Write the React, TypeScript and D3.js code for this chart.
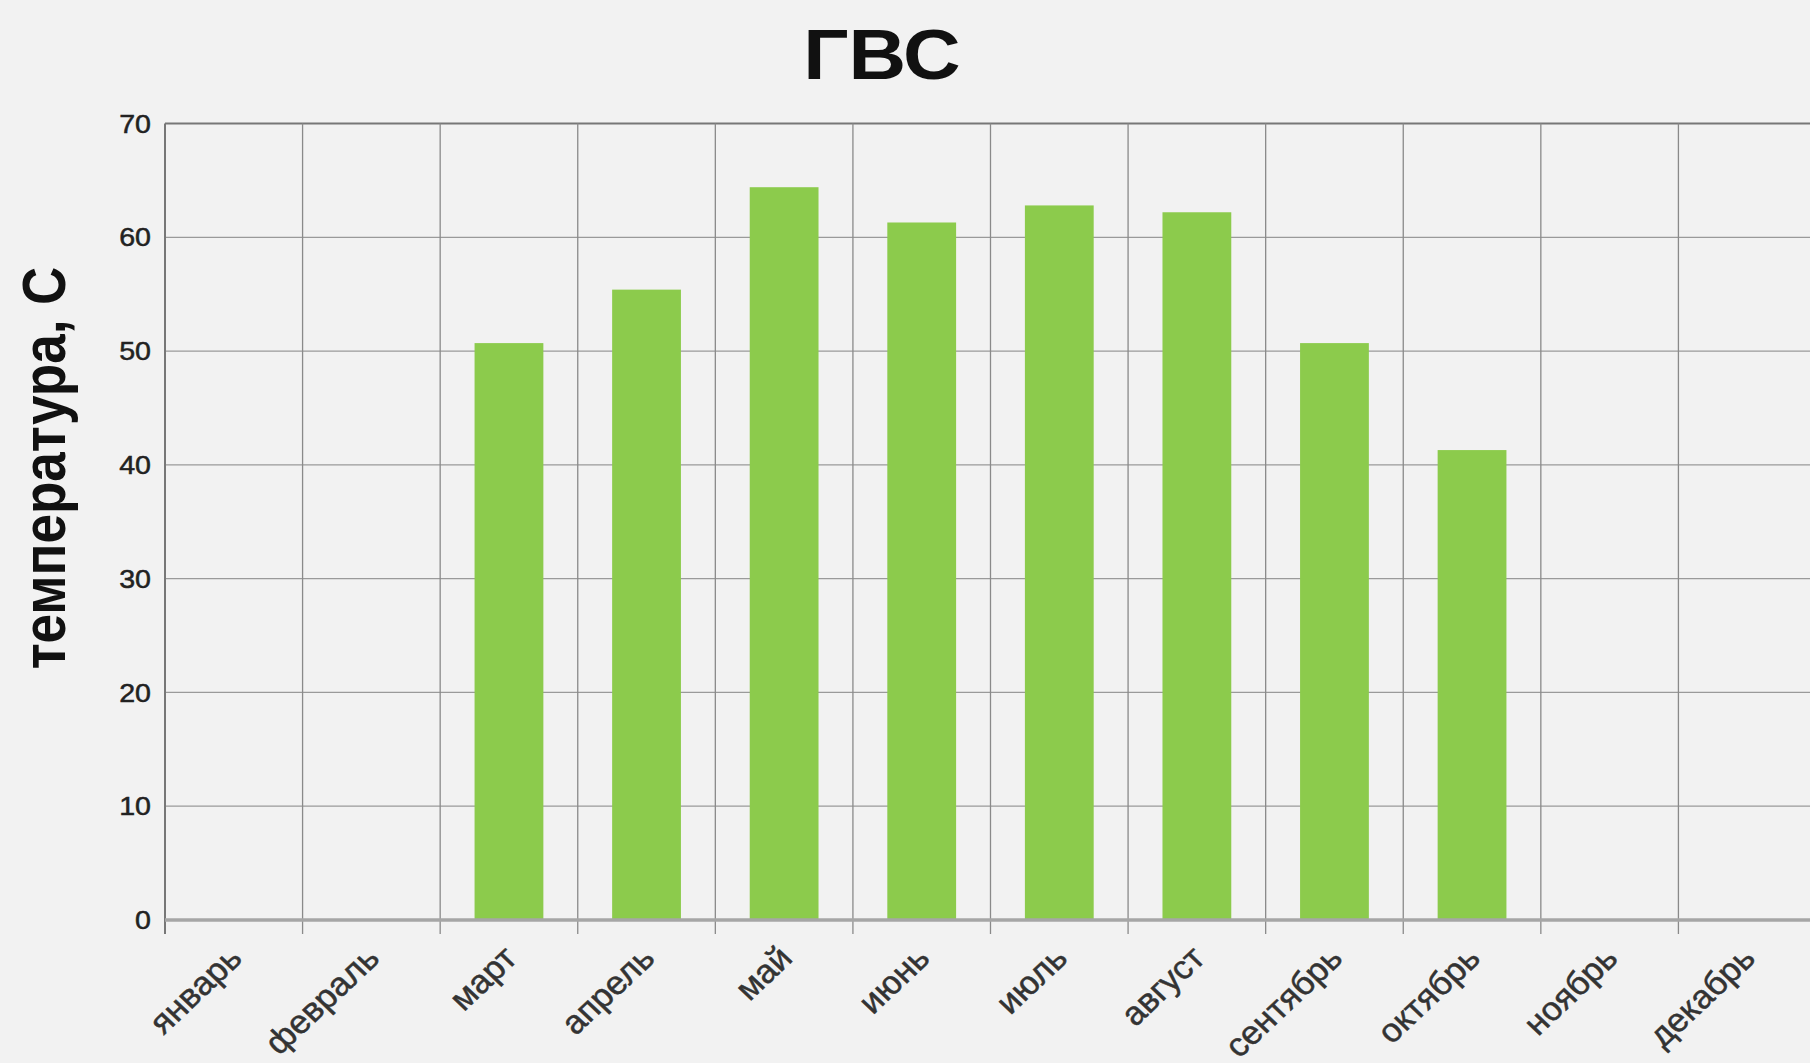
import React from "react";
import * as d3 from "d3";

const months = ["январь","февраль","март","апрель","май","июнь","июль","август","сентябрь","октябрь","ноябрь","декабрь"];
const values: (number | null)[] = [null, null, 50.7, 55.4, 64.4, 61.3, 62.8, 62.2, 50.7, 41.3, null, null];
const yTicks = [0, 10, 20, 30, 40, 50, 60, 70];
const title = "ГВС";
const yLabel = "температура, С";

const W = 1810, H = 1063;
const M = { left: 165, top: 123.5, right: 1816, bottom: 920 };

export default function App() {
  const x = d3.scaleBand<string>().domain(months).range([M.left, M.right]).paddingInner(0).paddingOuter(0);
  const y = d3.scaleLinear().domain([0, 70]).range([M.bottom, M.top]);
  const bw = x.bandwidth();
  const barW = bw * 0.5;
  return (
    <svg width={W} height={H} style={{ position: "absolute", left: 0, top: 0, background: "#f2f2f2", fontFamily: "Arial, 'Liberation Sans', sans-serif" }}>
      <rect x={0} y={0} width={W} height={H} fill="#f2f2f2" />
      <text transform={`translate(882,79) scale(1.14,1)`} textAnchor="middle" fontSize={70} fontWeight="bold" fill="#111">{title}</text>
      <text transform={`translate(65,468) scale(1.16,1) rotate(-90)`} textAnchor="middle" fontSize={53} fontWeight="bold" fill="#111">{yLabel}</text>
      {yTicks.map(t => (
        <g key={t}>
          <line x1={M.left} x2={W} y1={y(t)} y2={y(t)} stroke={t === 70 ? "#777" : "#9a9a9a"} strokeWidth={t === 70 ? 2 : 1.3} />
          <text transform={`translate(151,${y(t)}) scale(1.1,1)`} dy="0.35em" textAnchor="end" fontSize={26} fill="#222" stroke="#222" strokeWidth={0.5}>{t}</text>
        </g>
      ))}
      {months.map((m, i) => (
        <line key={m} x1={x(m)!} x2={x(m)!} y1={M.top} y2={M.bottom + 14} stroke={i === 0 ? "#777" : "#8a8a8a"} strokeWidth={i === 0 ? 2 : 1.3} />
      ))}
      {months.map((m, i) => values[i] == null ? null : (
        <rect key={m} x={x(m)! + (bw - barW) / 2} y={y(values[i] as number)} width={barW} height={y(0) - y(values[i] as number)} fill="#8ccb4c" />
      ))}
      <line x1={M.left} x2={W} y1={y(0)} y2={y(0)} stroke="#a6a6a6" strokeWidth={3.5} />
      {months.map(m => {
        const cx = x(m)! + bw / 2 + 10;
        const cy = M.bottom + 40;
        return (
          <text key={m} transform={`translate(${cx},${cy}) scale(1.06,1) rotate(-45)`} textAnchor="end" fontSize={33} fill="#333" stroke="#333" strokeWidth={0.5}>{m}</text>
        );
      })}
    </svg>
  );
}
